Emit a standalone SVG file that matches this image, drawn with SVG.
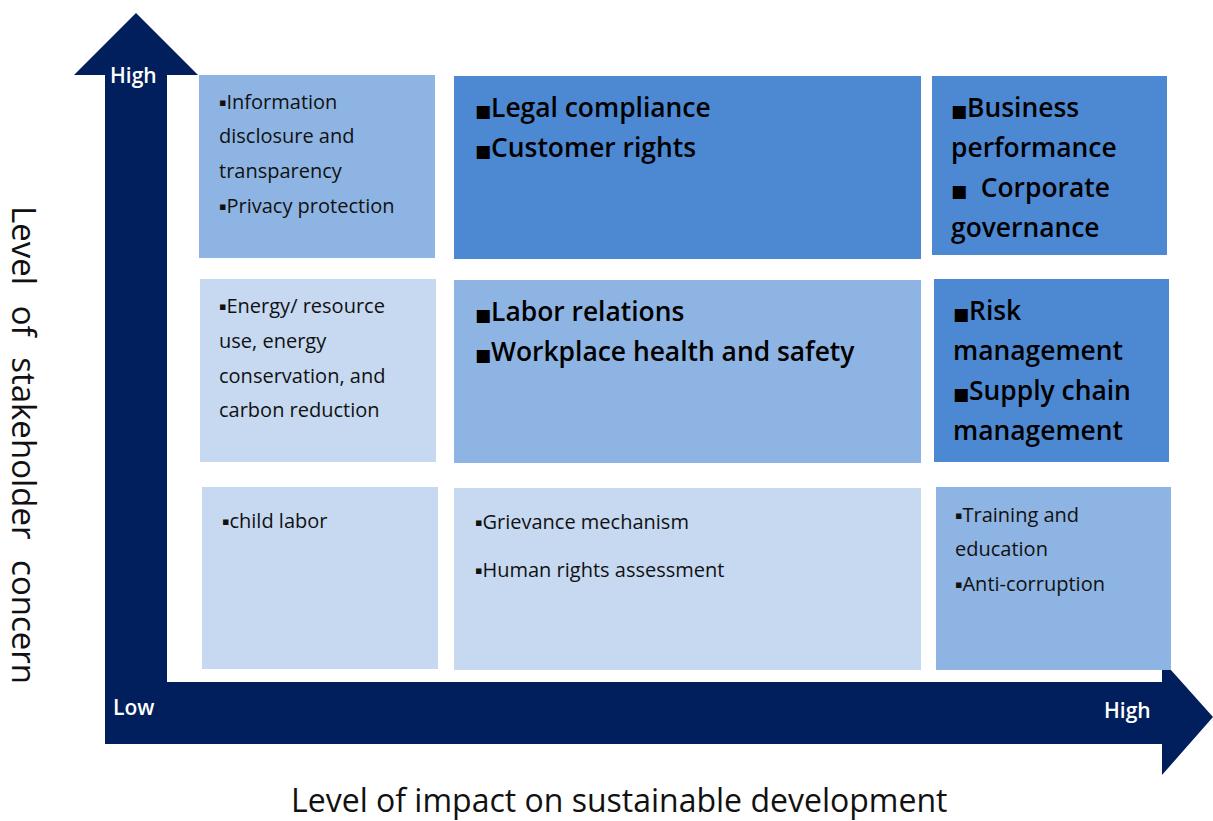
<svg xmlns="http://www.w3.org/2000/svg" width="1213" height="821" viewBox="0 0 1213 821">
<style>
.axis{fill:#001F5C}
.dark{fill:#4D89D2}
.mid{fill:#8EB4E3}
.light{fill:#C6D9F1}
.s{font-family:"Open Sans","Noto Sans","DejaVu Sans",sans-serif;font-size:20px;fill:#111}
.b{font-family:"Open Sans","Noto Sans","DejaVu Sans",sans-serif;font-size:26.4px;font-weight:600;fill:#000}
.sb{font-family:"DejaVu Sans",sans-serif;font-size:11px}
.bb{font-family:"DejaVu Sans",sans-serif;font-size:17px}
.ax{font-family:"Open Sans","Noto Sans",sans-serif;font-size:21px;font-weight:600;fill:#fff}
.title{font-family:"Open Sans","Noto Sans",sans-serif;font-size:32px;fill:#111}
</style>
<rect width="1213" height="821" fill="#fff"/>
<g id="axes">
<path class="axis" d="M136,13 L198,75 L167,75 L167,682 L1162,682 L1162,660 L1213,717 L1162,775 L1162,744 L105,744 L105,75 L74,75 Z"/>
<text class="ax" x="110" y="83">High</text>
<text class="ax" x="113" y="715">Low</text>
<text class="ax" x="1104" y="718">High</text>
</g>
<g id="box-a"><rect class="mid" x="199" y="75" width="236" height="183"/>
<text class="s" x="219" y="109"><tspan class="sb" dy="-3">▪</tspan><tspan dy="3">Information</tspan></text>
<text class="s" x="219" y="143">disclosure and</text>
<text class="s" x="219" y="178">transparency</text>
<text class="s" x="219" y="213"><tspan class="sb" dy="-3">▪</tspan><tspan dy="3">Privacy protection</tspan></text></g>
<g id="box-b"><rect class="dark" x="454" y="76" width="467" height="183"/>
<text class="b" x="475" y="117"><tspan class="bb">■</tspan>Legal compliance</text>
<text class="b" x="475" y="157"><tspan class="bb">■</tspan>Customer rights</text></g>
<g id="box-c"><rect class="dark" x="932" y="76" width="235" height="179"/>
<text class="b" x="951" y="117"><tspan class="bb">■</tspan>Business</text>
<text class="b" x="951" y="157">performance</text>
<text class="b" x="951" y="197" xml:space="preserve"><tspan class="bb">■</tspan>  Corporate</text>
<text class="b" x="951" y="237">governance</text></g>
<g id="box-d"><rect class="light" x="200" y="279" width="236" height="183"/>
<text class="s" x="219" y="313"><tspan class="sb" dy="-3">▪</tspan><tspan dy="3">Energy/ resource</tspan></text>
<text class="s" x="219" y="348">use, energy</text>
<text class="s" x="219" y="383">conservation, and</text>
<text class="s" x="219" y="417">carbon reduction</text></g>
<g id="box-e"><rect class="mid" x="454" y="280" width="467" height="183"/>
<text class="b" x="475" y="321"><tspan class="bb">■</tspan>Labor relations</text>
<text class="b" x="475" y="361"><tspan class="bb">■</tspan>Workplace health and safety</text></g>
<g id="box-f"><rect class="dark" x="934" y="279" width="235" height="183"/>
<text class="b" x="953" y="320"><tspan class="bb">■</tspan>Risk</text>
<text class="b" x="953" y="360">management</text>
<text class="b" x="953" y="400"><tspan class="bb">■</tspan>Supply chain</text>
<text class="b" x="953" y="440">management</text></g>
<g id="box-g"><rect class="light" x="202" y="487" width="236" height="182"/>
<text class="s" x="222" y="528"><tspan class="sb" dy="-3">▪</tspan><tspan dy="3">child labor</tspan></text></g>
<g id="box-h"><rect class="light" x="454" y="488" width="467" height="182"/>
<text class="s" x="475" y="529"><tspan class="sb" dy="-3">▪</tspan><tspan dy="3">Grievance mechanism</tspan></text>
<text class="s" x="475" y="577"><tspan class="sb" dy="-3">▪</tspan><tspan dy="3">Human rights assessment</tspan></text></g>
<g id="box-i"><rect class="mid" x="936" y="487" width="235" height="183"/>
<text class="s" x="955" y="522"><tspan class="sb" dy="-3">▪</tspan><tspan dy="3">Training and</tspan></text>
<text class="s" x="955" y="556">education</text>
<text class="s" x="955" y="591"><tspan class="sb" dy="-3">▪</tspan><tspan dy="3">Anti-corruption</tspan></text></g>
<g id="labels">
<text class="title" x="291" y="812">Level of impact on sustainable development</text>
<text class="title" transform="translate(12,206) rotate(90)" x="0" y="0" style="font-size:33px" word-spacing="12">Level of stakeholder concern</text>
</g>
</svg>
